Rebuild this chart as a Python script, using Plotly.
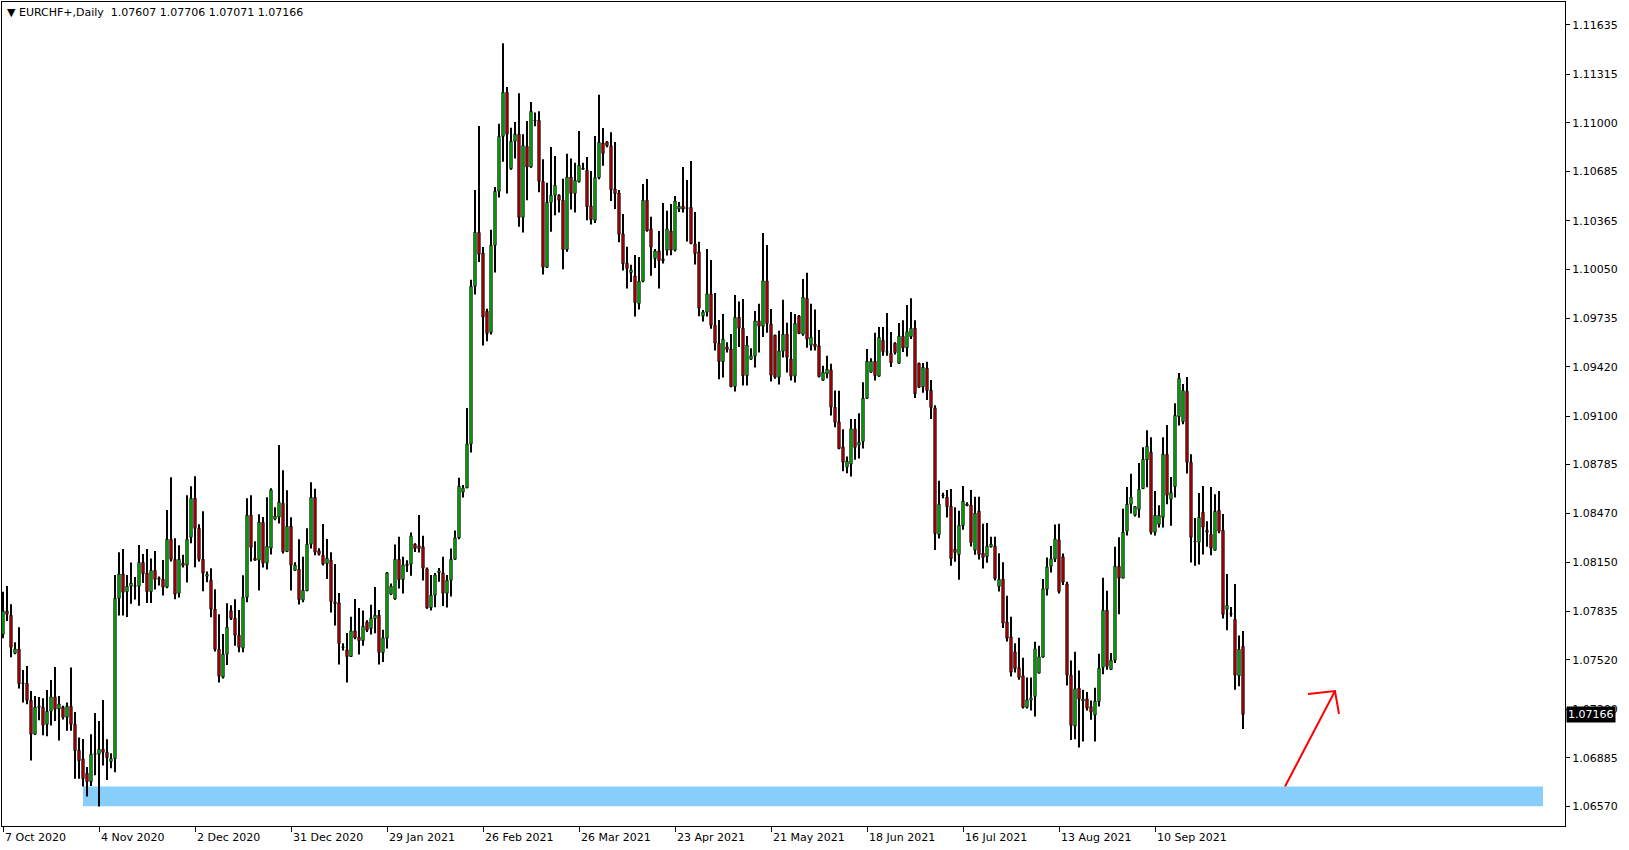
import plotly.graph_objects as go

symbol = "EURCHF+"
timeframe = "Daily"

# Daily OHLC (one entry per bar, oldest first)
open_ = [
    1.07685, 1.07836, 1.07808, 1.07562, 1.07590, 1.07369, 1.07367, 1.07257, 1.07037, 1.07212,
    1.07212, 1.07101, 1.07186, 1.07279, 1.07201, 1.07212, 1.07147, 1.07218, 1.07101, 1.06933,
    1.06877, 1.06784, 1.06730, 1.06907, 1.06907, 1.06940, 1.06920, 1.06860, 1.06879, 1.07918,
    1.08076, 1.07961, 1.07996, 1.07996, 1.07996, 1.08151, 1.08082, 1.07961, 1.08099, 1.08048,
    1.08042, 1.07990, 1.08301, 1.08171, 1.07951, 1.08146, 1.08133, 1.08314, 1.08567, 1.08372,
    1.08171, 1.08061, 1.08035, 1.07848, 1.07588, 1.07407, 1.07556, 1.07837, 1.07789, 1.07679,
    1.07595, 1.07925, 1.08457, 1.08178, 1.08165, 1.08411, 1.08146, 1.08243, 1.08431, 1.08444,
    1.08534, 1.08221, 1.08385, 1.08100, 1.08107, 1.07906, 1.07968, 1.08269, 1.08573, 1.08226,
    1.08197, 1.08143, 1.08165, 1.07895, 1.07889, 1.07599, 1.07584, 1.07541, 1.07707, 1.07666,
    1.07644, 1.07765, 1.07722, 1.07787, 1.07809, 1.07567, 1.07660, 1.07945, 1.07914, 1.08171,
    1.08040, 1.08131, 1.08139, 1.08269, 1.08258, 1.08252, 1.08109, 1.07858, 1.07938, 1.08085,
    1.08083, 1.07951, 1.08035, 1.08171, 1.08310, 1.08606, 1.08634, 1.08918, 1.09941, 1.10290,
    1.10156, 1.09779, 1.09642, 1.10207, 1.10557, 1.10913, 1.11198, 1.10703, 1.10881, 1.10927,
    1.10388, 1.10848, 1.10714, 1.11015, 1.11017, 1.10621, 1.10064, 1.10485, 1.10531, 1.10531,
    1.10499, 1.10179, 1.10649, 1.10543, 1.10619, 1.10700, 1.10693, 1.10462, 1.10369, 1.10645,
    1.10870, 1.10877, 1.10851, 1.10572, 1.10546, 1.10280, 1.10090, 1.10030, 1.10008, 1.09829,
    1.09974, 1.10499, 1.10313, 1.10121, 1.10170, 1.10118, 1.10175, 1.10300, 1.10175, 1.10442,
    1.10460, 1.10446, 1.10453, 1.10216, 1.10164, 1.09747, 1.09773, 1.09892, 1.09689, 1.09572,
    1.09453, 1.09548, 1.09535, 1.09291, 1.09740, 1.09669, 1.09362, 1.09468, 1.09488, 1.09717,
    1.09682, 1.09976, 1.09695, 1.09624, 1.09351, 1.09520, 1.09630, 1.09470, 1.09358, 1.09747,
    1.09630, 1.09863, 1.09559, 1.09567, 1.09554, 1.09332, 1.09373, 1.09399, 1.09157, 1.09062,
    1.08900, 1.08768, 1.08788, 1.09017, 1.08911, 1.08935, 1.09215, 1.09384, 1.09455, 1.09358,
    1.09591, 1.09513, 1.09507, 1.09572, 1.09442, 1.09617, 1.09543, 1.09615, 1.09669, 1.09442,
    1.09289, 1.09410, 1.09267, 1.09153, 1.08332, 1.08584, 1.08574, 1.08515, 1.08237, 1.08202,
    1.08390, 1.08530, 1.08522, 1.08230, 1.08483, 1.08211, 1.08189, 1.08252, 1.08256, 1.07995,
    1.08042, 1.07764, 1.07668, 1.07571, 1.07468, 1.07416, 1.07211, 1.07258, 1.07282, 1.07433,
    1.07537, 1.07977, 1.08126, 1.08172, 1.08297, 1.08187, 1.08012, 1.07420, 1.07090, 1.07336,
    1.07252, 1.07267, 1.07215, 1.07161, 1.07249, 1.07470, 1.07841, 1.07457, 1.07517, 1.08126,
    1.08049, 1.08353, 1.08528, 1.08457, 1.08495, 1.08629, 1.08815, 1.08865, 1.08346, 1.08398,
    1.08443, 1.08852, 1.08560, 1.08642, 1.09096, 1.09063, 1.09260, 1.08800, 1.08286, 1.08282,
    1.08476, 1.08359, 1.08333, 1.08230, 1.08489, 1.08359, 1.07847, 1.07815, 1.07782, 1.07415,
    1.07607,
]
high = [
    1.07961, 1.07998, 1.07879, 1.07633, 1.07730, 1.07454, 1.07480, 1.07318, 1.07285, 1.07279,
    1.07270, 1.07324, 1.07389, 1.07473, 1.07285, 1.07222, 1.07242, 1.07469, 1.07181, 1.07015,
    1.07006, 1.06825, 1.07037, 1.07175, 1.07123, 1.07259, 1.07004, 1.06914, 1.08069, 1.08216,
    1.08238, 1.08069, 1.08151, 1.08056, 1.08264, 1.08205, 1.08238, 1.08177, 1.08225, 1.08059,
    1.08167, 1.08491, 1.08703, 1.08308, 1.08262, 1.08200, 1.08586, 1.08645, 1.08709, 1.08398,
    1.08483, 1.08092, 1.08113, 1.07977, 1.07815, 1.07686, 1.07886, 1.07873, 1.07912, 1.07843,
    1.08068, 1.08567, 1.08586, 1.08288, 1.08463, 1.08446, 1.08573, 1.08632, 1.08508, 1.08912,
    1.08748, 1.08619, 1.08444, 1.08152, 1.08301, 1.08187, 1.08372, 1.08670, 1.08629, 1.08243,
    1.08400, 1.08303, 1.08217, 1.08141, 1.07953, 1.07627, 1.07694, 1.07798, 1.07914, 1.07856,
    1.07839, 1.07776, 1.07876, 1.07992, 1.07843, 1.07714, 1.08089, 1.08014, 1.08267, 1.08318,
    1.08187, 1.08165, 1.08344, 1.08275, 1.08459, 1.08323, 1.08118, 1.08070, 1.08083, 1.08115,
    1.08187, 1.08070, 1.08241, 1.08357, 1.08699, 1.08653, 1.09152, 1.09983, 1.10566, 1.10980,
    1.10195, 1.09795, 1.10307, 1.10584, 1.10994, 1.11517, 1.11233, 1.10969, 1.11006, 1.11193,
    1.10927, 1.11013, 1.11135, 1.11068, 1.11075, 1.10765, 1.10612, 1.10844, 1.10786, 1.10538,
    1.10638, 1.10800, 1.10770, 1.10742, 1.10948, 1.10742, 1.10779, 1.10689, 1.10915, 1.11182,
    1.10967, 1.10882, 1.10939, 1.10877, 1.10566, 1.10410, 1.10198, 1.10080, 1.10144, 1.10131,
    1.10604, 1.10637, 1.10391, 1.10183, 1.10300, 1.10481, 1.10430, 1.10475, 1.10527, 1.10488,
    1.10715, 1.10630, 1.10754, 1.10423, 1.10229, 1.09788, 1.10183, 1.10112, 1.09898, 1.09723,
    1.09762, 1.09578, 1.09632, 1.09885, 1.09842, 1.09859, 1.09619, 1.09539, 1.09781, 1.09827,
    1.10287, 1.10209, 1.09794, 1.09626, 1.09652, 1.09853, 1.09704, 1.09775, 1.09762, 1.09755,
    1.09989, 1.10028, 1.09827, 1.09790, 1.09658, 1.09425, 1.09490, 1.09438, 1.09265, 1.09263,
    1.09014, 1.08837, 1.09081, 1.09081, 1.09118, 1.09319, 1.09535, 1.09474, 1.09639, 1.09677,
    1.09677, 1.09768, 1.09645, 1.09578, 1.09703, 1.09721, 1.09820, 1.09863, 1.09721, 1.09446,
    1.09444, 1.09451, 1.09334, 1.09170, 1.08680, 1.08602, 1.08621, 1.08626, 1.08509, 1.08485,
    1.08647, 1.08541, 1.08621, 1.08576, 1.08576, 1.08401, 1.08407, 1.08317, 1.08317, 1.08211,
    1.08152, 1.07934, 1.07798, 1.07627, 1.07662, 1.07532, 1.07405, 1.07405, 1.07636, 1.07610,
    1.08044, 1.08183, 1.08258, 1.08396, 1.08401, 1.08208, 1.08025, 1.07515, 1.07571, 1.07450,
    1.07325, 1.07310, 1.07256, 1.07338, 1.07558, 1.08051, 1.07967, 1.07563, 1.08252, 1.08314,
    1.08498, 1.08640, 1.08725, 1.08513, 1.08796, 1.08897, 1.09007, 1.08962, 1.08614, 1.08521,
    1.08962, 1.09042, 1.08705, 1.09182, 1.09379, 1.09307, 1.09353, 1.08852, 1.08439, 1.08601,
    1.08647, 1.08418, 1.08640, 1.08593, 1.08614, 1.08465, 1.08076, 1.07862, 1.08011, 1.07677,
    1.07706,
]
low = [
    1.07659, 1.07771, 1.07536, 1.07555, 1.07333, 1.07242, 1.07231, 1.06866, 1.07032, 1.07127,
    1.07030, 1.07024, 1.07093, 1.07123, 1.06996, 1.07132, 1.07060, 1.07060, 1.06749, 1.06749,
    1.06698, 1.06633, 1.06702, 1.06771, 1.06568, 1.06834, 1.06741, 1.06816, 1.06790, 1.07806,
    1.07806, 1.07797, 1.07883, 1.07911, 1.07870, 1.08017, 1.07888, 1.07888, 1.07976, 1.08001,
    1.07936, 1.07983, 1.08156, 1.07912, 1.07923, 1.08118, 1.08020, 1.08275, 1.08120, 1.08156,
    1.07964, 1.08022, 1.07796, 1.07573, 1.07372, 1.07398, 1.07485, 1.07778, 1.07610, 1.07569,
    1.07569, 1.07893, 1.08156, 1.08163, 1.07968, 1.08118, 1.08105, 1.08202, 1.08424, 1.08403,
    1.08208, 1.08219, 1.07968, 1.08098, 1.07878, 1.07893, 1.07964, 1.08241, 1.08197, 1.08195,
    1.08131, 1.08044, 1.07826, 1.07742, 1.07489, 1.07580, 1.07372, 1.07541, 1.07653, 1.07554,
    1.07610, 1.07699, 1.07683, 1.07692, 1.07489, 1.07506, 1.07593, 1.07940, 1.07908, 1.07981,
    1.07949, 1.08089, 1.08064, 1.08219, 1.08215, 1.08033, 1.07850, 1.07839, 1.07860, 1.08025,
    1.07869, 1.07858, 1.07930, 1.08167, 1.08301, 1.08571, 1.08634, 1.08864, 1.09888, 1.10098,
    1.09557, 1.09584, 1.09628, 1.10031, 1.10517, 1.10749, 1.10543, 1.10696, 1.10770, 1.10327,
    1.10290, 1.10499, 1.10710, 1.10978, 1.10550, 1.10017, 1.10059, 1.10295, 1.10402, 1.10420,
    1.10052, 1.10165, 1.10439, 1.10420, 1.10614, 1.10696, 1.10369, 1.10341, 1.10351, 1.10635,
    1.10723, 1.10842, 1.10494, 1.10442, 1.10226, 1.10043, 1.09926, 1.09969, 1.09745, 1.09790,
    1.09967, 1.10296, 1.10010, 1.10060, 1.09926, 1.10088, 1.10140, 1.10142, 1.10166, 1.10423,
    1.10419, 1.10231, 1.10214, 1.10082, 1.09747, 1.09712, 1.09745, 1.09665, 1.09524, 1.09339,
    1.09349, 1.09512, 1.09287, 1.09259, 1.09548, 1.09297, 1.09297, 1.09464, 1.09414, 1.09511,
    1.09613, 1.09639, 1.09323, 1.09341, 1.09304, 1.09479, 1.09382, 1.09330, 1.09317, 1.09632,
    1.09621, 1.09542, 1.09524, 1.09524, 1.09349, 1.09328, 1.09345, 1.09103, 1.09027, 1.08885,
    1.08742, 1.08729, 1.08708, 1.08816, 1.08824, 1.08889, 1.09211, 1.09382, 1.09330, 1.09356,
    1.09490, 1.09490, 1.09418, 1.09498, 1.09440, 1.09515, 1.09485, 1.09600, 1.09217, 1.09282,
    1.09250, 1.09204, 1.09081, 1.08232, 1.08306, 1.08567, 1.08442, 1.08129, 1.08155, 1.08038,
    1.08362, 1.08515, 1.08254, 1.08200, 1.08170, 1.08111, 1.08148, 1.08247, 1.08034, 1.07962,
    1.07725, 1.07638, 1.07411, 1.07437, 1.07390, 1.07204, 1.07204, 1.07191, 1.07152, 1.07433,
    1.07535, 1.07936, 1.08085, 1.08154, 1.07949, 1.08005, 1.07353, 1.06999, 1.07005, 1.06951,
    1.06990, 1.07191, 1.07131, 1.06990, 1.07217, 1.07426, 1.07455, 1.07457, 1.07498, 1.07815,
    1.08049, 1.08325, 1.08468, 1.08448, 1.08441, 1.08629, 1.08638, 1.08331, 1.08325, 1.08377,
    1.08377, 1.08528, 1.08389, 1.08571, 1.09038, 1.09046, 1.08727, 1.08150, 1.08130, 1.08137,
    1.08202, 1.08253, 1.08197, 1.08230, 1.08340, 1.07787, 1.07711, 1.07798, 1.07325, 1.07348,
    1.07071,
]
close = [
    1.07836, 1.07814, 1.07600, 1.07590, 1.07365, 1.07365, 1.07257, 1.07037, 1.07212, 1.07220,
    1.07095, 1.07186, 1.07279, 1.07199, 1.07233, 1.07147, 1.07218, 1.07101, 1.06931, 1.06866,
    1.06749, 1.06730, 1.06907, 1.06907, 1.06940, 1.06920, 1.06885, 1.06879, 1.07918, 1.08076,
    1.07957, 1.07996, 1.08017, 1.07996, 1.08151, 1.08078, 1.07961, 1.08099, 1.08041, 1.08042,
    1.07990, 1.08301, 1.08171, 1.07945, 1.08171, 1.08131, 1.08301, 1.08567, 1.08372, 1.08171,
    1.08081, 1.08074, 1.07848, 1.07588, 1.07413, 1.07556, 1.07731, 1.07787, 1.07679, 1.07601,
    1.07925, 1.08457, 1.08249, 1.08165, 1.08411, 1.08146, 1.08256, 1.08621, 1.08452, 1.08541,
    1.08221, 1.08385, 1.08133, 1.08133, 1.07910, 1.07971, 1.08269, 1.08573, 1.08217, 1.08204,
    1.08141, 1.08178, 1.07897, 1.07884, 1.07625, 1.07599, 1.07541, 1.07707, 1.07662, 1.07644,
    1.07737, 1.07711, 1.07789, 1.07809, 1.07567, 1.07662, 1.08083, 1.07997, 1.08171, 1.08040,
    1.08135, 1.08139, 1.08323, 1.08241, 1.08241, 1.08113, 1.07856, 1.07938, 1.08070, 1.08096,
    1.07951, 1.08035, 1.08171, 1.08310, 1.08645, 1.08634, 1.08919, 1.09941, 1.10290, 1.10149,
    1.09742, 1.09635, 1.10207, 1.10557, 1.10913, 1.11198, 1.10927, 1.10881, 1.10927, 1.10388,
    1.10853, 1.10714, 1.11075, 1.11015, 1.10621, 1.10064, 1.10485, 1.10531, 1.10596, 1.10499,
    1.10179, 1.10649, 1.10543, 1.10628, 1.10726, 1.10707, 1.10457, 1.10374, 1.10645, 1.10874,
    1.10803, 1.10853, 1.10568, 1.10542, 1.10278, 1.10088, 1.10056, 1.10047, 1.09836, 1.09974,
    1.10499, 1.10300, 1.10194, 1.10170, 1.10108, 1.10108, 1.10313, 1.10175, 1.10494, 1.10460,
    1.10442, 1.10446, 1.10218, 1.10153, 1.09799, 1.09775, 1.09892, 1.09689, 1.09572, 1.09453,
    1.09598, 1.09531, 1.09291, 1.09740, 1.09669, 1.09362, 1.09559, 1.09490, 1.09717, 1.09682,
    1.09976, 1.09699, 1.09364, 1.09351, 1.09522, 1.09630, 1.09481, 1.09358, 1.09701, 1.09634,
    1.09870, 1.09598, 1.09611, 1.09550, 1.09356, 1.09384, 1.09403, 1.09157, 1.09060, 1.08889,
    1.08801, 1.08807, 1.09017, 1.08896, 1.08930, 1.09215, 1.09455, 1.09455, 1.09362, 1.09610,
    1.09518, 1.09513, 1.09446, 1.09511, 1.09617, 1.09541, 1.09647, 1.09669, 1.09245, 1.09286,
    1.09416, 1.09265, 1.09155, 1.08338, 1.08528, 1.08584, 1.08513, 1.08176, 1.08215, 1.08392,
    1.08548, 1.08520, 1.08280, 1.08470, 1.08202, 1.08183, 1.08256, 1.08269, 1.08047, 1.08042,
    1.07757, 1.07660, 1.07440, 1.07463, 1.07405, 1.07211, 1.07260, 1.07273, 1.07591, 1.07539,
    1.07980, 1.08122, 1.08174, 1.08303, 1.07962, 1.08023, 1.07420, 1.07094, 1.07332, 1.07265,
    1.07265, 1.07206, 1.07180, 1.07252, 1.07466, 1.07841, 1.07476, 1.07517, 1.08126, 1.08049,
    1.08347, 1.08528, 1.08574, 1.08513, 1.08625, 1.08819, 1.08904, 1.08346, 1.08456, 1.08456,
    1.08852, 1.08586, 1.08603, 1.09104, 1.09344, 1.09266, 1.08800, 1.08314, 1.08286, 1.08443,
    1.08379, 1.08346, 1.08243, 1.08482, 1.08353, 1.07815, 1.07871, 1.07815, 1.07420, 1.07588,
    1.07166,
]

bar = list(range(len(open_)))

date_tick_bars = [0, 24, 48, 72, 96, 120, 144, 168, 192, 216, 240, 264, 288]
date_tick_labels = ["7 Oct 2020", "4 Nov 2020", "2 Dec 2020", "31 Dec 2020", "29 Jan 2021",
                    "26 Feb 2021", "26 Mar 2021", "23 Apr 2021", "21 May 2021", "18 Jun 2021",
                    "16 Jul 2021", "13 Aug 2021", "10 Sep 2021"]

price_ticks = [1.11635, 1.11315, 1.11000, 1.10685, 1.10365, 1.10050, 1.09735, 1.09420,
               1.09100, 1.08785, 1.08470, 1.08150, 1.07835, 1.07520, 1.07200, 1.06885, 1.06570]

# demand zone rectangle and projection arrow
zone_low, zone_high = 1.06570, 1.06698
zone_first_bar, zone_last_bar = 20, 385
arrow_start = (320.5, 1.06698)
arrow_end = (333.0, 1.07317)

FONT = "DejaVu Sans"
BAR_PX = 4.0          # pixels per bar
PRICE_PER_PX = 0.00006483
MIN_BODY = 0.6 * PRICE_PER_PX   # doji bodies drawn as a thin bar

fig = go.Figure()

# wicks (high-low range)
fig.add_trace(go.Bar(
    x=bar, base=low, y=[h - l for h, l in zip(high, low)], width=0.25,
    marker=dict(color="black", line=dict(width=0)), hoverinfo="skip", showlegend=False,
))

# bodies
for up, fill in ((True, "#00FF00"), (False, "#FF0000")):
    xs, bases, hts = [], [], []
    for i, o, c in zip(bar, open_, close):
        if (c > o) == up:
            xs.append(i)
            bases.append(min(o, c))
            hts.append(max(abs(c - o), MIN_BODY))
    fig.add_trace(go.Bar(
        x=xs, base=bases, y=hts, width=0.55,
        marker=dict(color=fill, line=dict(color="black", width=1)),
        hoverinfo="skip", showlegend=False,
    ))

fig.add_shape(type="rect", xref="x", yref="y",
              x0=zone_first_bar, x1=zone_last_bar, y0=zone_low, y1=zone_high,
              fillcolor="#87CEFA", line=dict(width=0), layer="below")

# arrow with open head (head legs given in pixel offsets)
tx, ty = arrow_end
h1 = (tx - 27 / BAR_PX, ty - 3 * PRICE_PER_PX)
h2 = (tx + 4 / BAR_PX, ty - 23 * PRICE_PER_PX)
path = (f"M {arrow_start[0]},{arrow_start[1]} L {tx},{ty} "
        f"M {h1[0]},{h1[1]} L {tx},{ty} L {h2[0]},{h2[1]}")
fig.add_shape(type="path", xref="x", yref="y", path=path,
              line=dict(color="#FF0000", width=2))

annotations = []
for b, lab in zip(date_tick_bars, date_tick_labels):
    annotations.append(dict(x=b, y=0, xref="x", yref="paper", xanchor="left", yanchor="top",
                            yshift=-3, showarrow=False, text=lab,
                            font=dict(family=FONT, size=11, color="black")))

nb = "\u00a0"
header = (f"\u25bc{nb}{symbol},{timeframe}{nb}{nb}{open_[-1]:.5f}{nb}{high[-1]:.5f}"
          f"{nb}{low[-1]:.5f}{nb}{close[-1]:.5f}")
annotations.append(dict(x=0, y=1, xref="paper", yref="paper", xanchor="left", yanchor="top",
                        xshift=3, yshift=-2, showarrow=False, text=header,
                        font=dict(family=FONT, size=11, color="black")))
annotations.append(dict(x=1, y=close[-1], xref="paper", yref="y", xanchor="left",
                        yanchor="middle", xshift=1, showarrow=False, text=f"{close[-1]:.5f}",
                        bgcolor="black", borderpad=1,
                        font=dict(family=FONT, size=11, color="white")))

fig.update_layout(
    width=1629, height=850,
    margin=dict(l=2, r=64, t=2, b=24, autoexpand=False),
    paper_bgcolor="white", plot_bgcolor="white",
    showlegend=False,
    barmode="overlay",
    annotations=annotations,
    xaxis=dict(range=[-0.25, 390.5], tickvals=date_tick_bars,
               ticktext=[""] * len(date_tick_bars), ticks="outside", ticklen=5,
               tickcolor="black", showline=True, linecolor="black", linewidth=1,
               mirror=True, showgrid=False, zeroline=False, fixedrange=True),
    yaxis=dict(side="right", range=[1.06442, 1.11784], tickvals=price_ticks,
               ticktext=[f"{v:.5f}" for v in price_ticks], ticks="outside", ticklen=4,
               tickcolor="black", showline=True, linecolor="black", linewidth=1,
               mirror=True, showgrid=False, zeroline=False,
               tickfont=dict(family=FONT, size=11, color="black"), fixedrange=True),
)

fig.write_html("out.html", config={"displayModeBar": False},
               post_script="document.body.style.margin='0';document.body.style.padding='0';"
                           "document.body.style.overflow='hidden';")
